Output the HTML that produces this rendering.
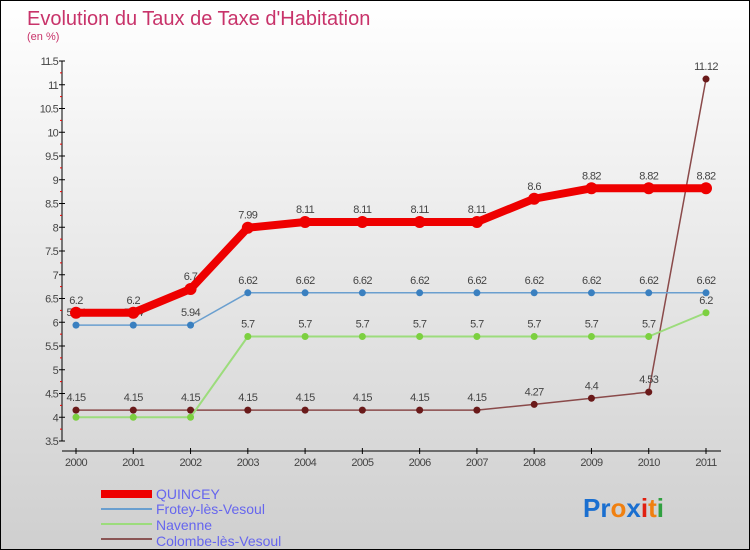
<!DOCTYPE html>
<html><head><meta charset="utf-8"><style>
body{margin:0}
#c{width:750px;height:550px;position:relative;box-sizing:border-box;border:1px solid #000;background:linear-gradient(#ffffff,#cfcfcf);font-family:"Liberation Sans",sans-serif;overflow:hidden}
</style></head><body>
<div id="c">
<svg id="s" width="750" height="550" style="position:absolute;left:0;top:0">
<text x="26" y="24" font-size="20" fill="#c8336a">Evolution du Taux de Taxe d'Habitation</text>
<text x="26" y="39" font-size="11" fill="#c8336a">(en %)</text>
<g id="ax"></g><g id="ser"></g>
<g>
<rect x="100" y="489" width="51" height="8" fill="#e00"/>
<text x="155" y="498" font-size="14" fill="#6666ee">QUINCEY</text>
<rect x="100" y="507" width="51" height="2" fill="#6a9fcf"/>
<text x="155" y="513" font-size="14" fill="#6666ee">Frotey-lès-Vesoul</text>
<rect x="100" y="522" width="51" height="2" fill="#9cdc7c"/>
<text x="155" y="529" font-size="14" fill="#6666ee">Navenne</text>
<rect x="100" y="537" width="51" height="2" fill="#8a5555"/>
<text x="155" y="545" font-size="14" fill="#6666ee">Colombe-lès-Vesoul</text>
</g>
<text x="582" y="516" font-size="26" font-weight="bold"><tspan fill="#1a6fd0">Pr</tspan><tspan fill="#f08010">o</tspan><tspan fill="#1a6fd0">x</tspan><tspan fill="#e02010">i</tspan><tspan fill="#f08010">t</tspan><tspan fill="#30a040">i</tspan></text>
</svg></div>
<script>
const years=["2000","2001","2002","2003","2004","2005","2006","2007","2008","2009","2010","2011"];
const yTicks=[3.5,4,4.5,5,5.5,6,6.5,7,7.5,8,8.5,9,9.5,10,10.5,11,11.5];
const quincey=[6.2,6.2,6.7,7.99,8.11,8.11,8.11,8.11,8.6,8.82,8.82,8.82];
const frotey=[5.94,5.94,5.94,6.62,6.62,6.62,6.62,6.62,6.62,6.62,6.62,6.62];
const navenne=[4,4,4,5.7,5.7,5.7,5.7,5.7,5.7,5.7,5.7,6.2];
const colombe=[4.15,4.15,4.15,4.15,4.15,4.15,4.15,4.15,4.27,4.4,4.53,11.12];
const NS="http://www.w3.org/2000/svg";
const X=i=>75+i*(630/11), Y=v=>440-(v-3.5)*47.5;
function mk(t,a,p){const e=document.createElementNS(NS,t);for(const k in a)e.setAttribute(k,a[k]);p.appendChild(e);return e;}
const ax=document.getElementById('ax'),ser=document.getElementById('ser');
let l=mk('line',{x1:61,y1:Y(11.5),x2:61,y2:Y(3.5),stroke:'#000'},ax);


l=mk('line',{x1:61,y1:450,x2:720,y2:450,stroke:'#000'},ax);


yTicks.forEach((v,i)=>{
 mk('line',{x1:58,y1:Y(v),x2:64,y2:Y(v),stroke:'#000'},ax);
 if(i<yTicks.length-1)mk('line',{x1:59,y1:Y(v+0.25),x2:61,y2:Y(v+0.25),stroke:'#e00'},ax);
 const t=mk('text',{x:57,y:Y(v)+4,'font-size':11,'text-anchor':'end',fill:'#444','letter-spacing':'-0.8'},ax);
 t.textContent=String(v);
 
 
});
years.forEach((y,i)=>{
 mk('line',{x1:X(i),y1:447,x2:X(i),y2:453,stroke:'#000'},ax);
 const t=mk('text',{x:X(i),y:465,'font-size':11,'text-anchor':'middle',fill:'#444','letter-spacing':'-0.6'},ax);
 t.textContent=y;
 
 
});
function series(d,name,col,w,r,dot,labels){
 const g=mk('g',{},ser);
 
 
 const p=mk('polyline',{points:d.map((v,i)=>X(i)+','+Y(v)).join(' '),fill:'none',stroke:col,'stroke-width':w,'stroke-linejoin':'round'},g);
 
 
 d.forEach((v,i)=>{
  const c=mk('circle',{cx:X(i),cy:Y(v),r:r,fill:dot},g);
  
  
  if(labels(i)){const t=mk('text',{x:X(i),y:Y(v)-9,'font-size':11,'text-anchor':'middle',fill:'#444','letter-spacing':'-0.6'},g);
  t.textContent=String(v);
  
  }
 });
}
series(colombe,'colombe','#8a4a4a',1.5,3.5,'#6a1a1a',()=>true);
series(navenne,'navenne','#9cdc7c',2,3.5,'#7cd040',i=>i>2);
series(frotey,'frotey','#6a9fcf',1.5,3.5,'#3a80c0',()=>true);
series(quincey,'quincey','#ee0000',8,6,'#ee0000',()=>true);
</script>
</body></html>
